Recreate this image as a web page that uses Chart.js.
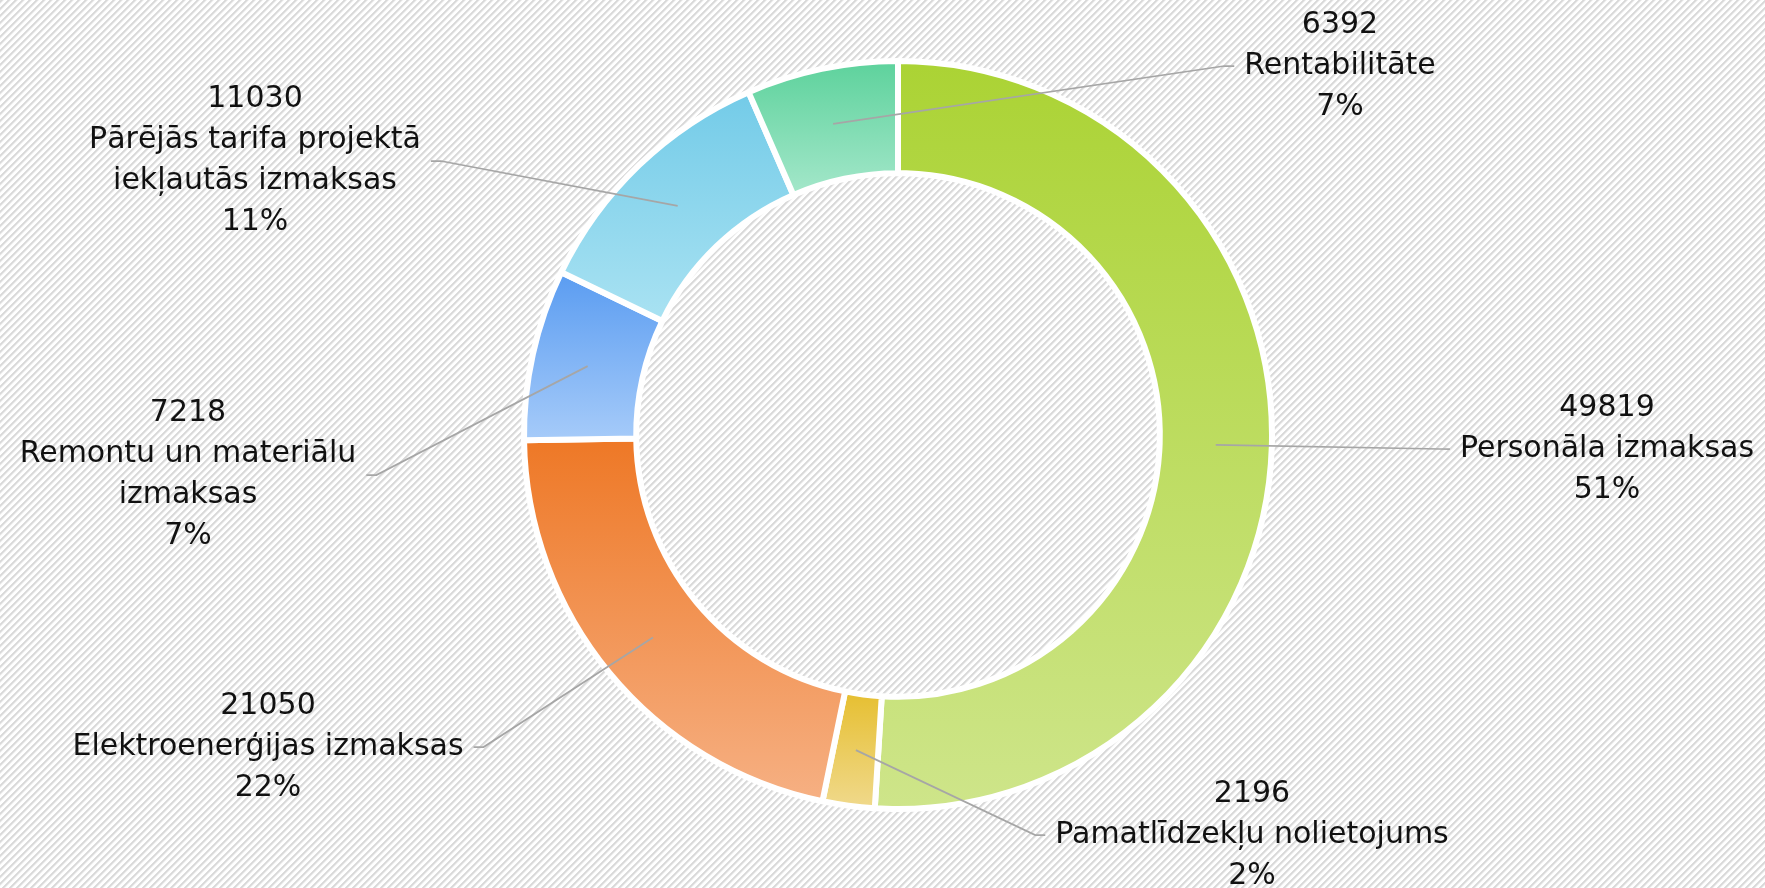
<!DOCTYPE html>
<html lang="lv">
<head>
  <meta charset="UTF-8" />
  <title>Izmaksu struktūra</title>
  <script src="https://cdn.jsdelivr.net/npm/chart.js"></script>
  <style>
    body {
      margin: 0;
      background: #ffffff;
    }

    .wrap {
      width: 1765px;
      height: 888px;
    }
  </style>
</head>
<body>

  <div class="wrap">
    <canvas id="costChart" width="1765" height="888"></canvas>
  </div>

  <script>
    const categories = [
      ['Personāla izmaksas'],
      ['Pamatlīdzekļu nolietojums'],
      ['Elektroenerģijas izmaksas'],
      ['Remontu un materiālu', 'izmaksas'],
      ['Pārējās tarifa projektā', 'iekļautās izmaksas'],
      ['Rentabilitāte']
    ];
    const values = [49819, 2196, 21050, 7218, 11030, 6392];

    // gradient per slice, top -> bottom
    const topColors = ['#abd334', '#e6bf30', '#ee7826', '#5a9cf1', '#73cbe8', '#5dd29c'];
    const bottomColors = ['#cee58a', '#f0d98c', '#f6b083', '#a6cbf9', '#a9e2f2', '#a4e7ca'];

    // where the label blocks sit, relative to the ring centre
    const labelOffsets = [[709, 14], [354, 400], [-630, 312], [-710, 40], [-643, -274], [442, -369]];

    const total = values.reduce((a, b) => a + b, 0);

    // light upward-diagonal hatch behind everything
    const hatch = {
      id: 'hatch',
      beforeDraw(chart) {
        const n = 7;
        const shades = [222, 216, 226, 244, 255, 255, 255];
        const tile = document.createElement('canvas');
        tile.width = n;
        tile.height = n;
        const tctx = tile.getContext('2d');
        const img = tctx.createImageData(n, n);
        for (let y = 0; y < n; y++) {
          for (let x = 0; x < n; x++) {
            const c = shades[(x + y) % n];
            const p = (y * n + x) * 4;
            img.data[p] = img.data[p + 1] = img.data[p + 2] = c;
            img.data[p + 3] = 255;
          }
        }
        tctx.putImageData(img, 0, 0);
        const ctx = chart.ctx;
        ctx.save();
        ctx.fillStyle = ctx.createPattern(tile, 'repeat');
        ctx.fillRect(0, 0, chart.width, chart.height);
        ctx.restore();
      }
    };

    const gradientFill = {
      id: 'gradientFill',
      beforeDatasetsDraw(chart) {
        const ctx = chart.ctx;
        chart.getDatasetMeta(0).data.forEach((arc, i) => {
          const { x, y, startAngle, endAngle, innerRadius, outerRadius } = arc;
          const ys = [];
          [startAngle, endAngle].forEach(a => {
            ys.push(y + Math.sin(a) * innerRadius, y + Math.sin(a) * outerRadius);
          });
          [-Math.PI / 2, Math.PI / 2, 3 * Math.PI / 2].forEach(t => {
            if (t > startAngle && t < endAngle) ys.push(y + Math.sin(t) * outerRadius);
          });
          const g = ctx.createLinearGradient(0, Math.min(...ys), 0, Math.max(...ys));
          g.addColorStop(0, topColors[i]);
          g.addColorStop(1, bottomColors[i]);
          arc.options.backgroundColor = g;
        });
      }
    };

    const leaderLabels = {
      id: 'leaderLabels',
      afterDatasetsDraw(chart) {
        const ctx = chart.ctx;
        const lineH = 41;
        ctx.save();
        ctx.font = '30px "DejaVu Sans"';
        chart.getDatasetMeta(0).data.forEach((arc, i) => {
          const mid = (arc.startAngle + arc.endAngle) / 2;
          const rm = (arc.innerRadius + arc.outerRadius) / 2;
          const ax = arc.x + Math.cos(mid) * rm;
          const ay = arc.y + Math.sin(mid) * rm;
          const lx = arc.x + labelOffsets[i][0];
          const ly = arc.y + labelOffsets[i][1];

          const pct = Math.round(values[i] / total * 100) + '%';
          const lines = [String(values[i]), ...categories[i], pct];
          const w = Math.max(...lines.map(t => ctx.measureText(t).width));

          const onRight = lx > arc.x;
          const ex = onRight ? lx - w / 2 - 10 : lx + w / 2 + 10;
          const kx = onRight ? ex - 10 : ex + 10;

          ctx.strokeStyle = '#a6a6a6';
          ctx.lineWidth = 1.75;
          ctx.beginPath();
          ctx.moveTo(ax, ay);
          ctx.lineTo(kx, ly);
          ctx.lineTo(ex, ly);
          ctx.stroke();

          ctx.fillStyle = '#111111';
          ctx.textAlign = 'center';
          ctx.textBaseline = 'middle';
          lines.forEach((t, k) => {
            ctx.fillText(t, lx, ly + (k - (lines.length - 1) / 2) * lineH);
          });
        });
        ctx.restore();
      }
    };

    new Chart(document.getElementById('costChart'), {
      type: 'doughnut',
      data: {
        labels: categories,
        datasets: [{
          data: values,
          backgroundColor: topColors,
          borderColor: '#ffffff',
          borderWidth: 6
        }]
      },
      options: {
        responsive: false,
        animation: false,
        events: [],
        radius: 374,
        cutout: '70%',
        layout: { padding: { left: 31, right: 0, top: 0, bottom: 18 } },
        plugins: {
          legend: { display: false },
          tooltip: { enabled: false }
        }
      },
      plugins: [hatch, gradientFill, leaderLabels]
    });
  </script>
</body>
</html>
